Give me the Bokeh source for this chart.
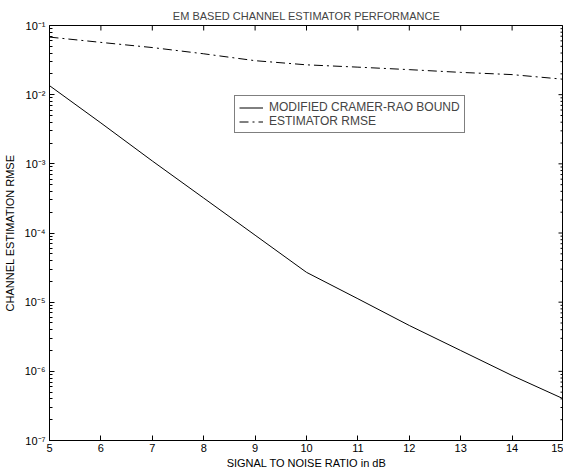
import math
from bokeh.plotting import figure
from bokeh.models import (Range1d, FixedTicker, CustomJSTickFormatter, Legend, LegendItem)
from bokeh.embed import file_html
from bokeh.resources import INLINE

snr_db = [5, 6, 7, 8, 9, 10, 11, 12, 13, 14, 15]
crb = [1.35e-2, 3.9e-3, 1.1e-3, 3.2e-4, 9.3e-5, 2.7e-5, 1.12e-5, 4.6e-6, 2.0e-6, 8.7e-7, 4.0e-7]
est_rmse = [0.068, 0.057, 0.048, 0.039, 0.031, 0.027, 0.025, 0.023, 0.021, 0.0195, 0.0167]

x_ticks = [5, 6, 7, 8, 9, 10, 11, 12, 13, 14, 15]
y_decades = [-7, -6, -5, -4, -3, -2, -1]

FONT = "Liberation Sans"
X0, X1 = 5, 15
Y0, Y1 = 1e-7, 1e-1

y_major = [10.0 ** e for e in y_decades]
y_minor = [m * 10.0 ** e for e in y_decades[:-1] for m in range(2, 10)]

p = figure(frame_width=514, frame_height=415, output_backend="svg", toolbar_location=None,
           x_range=Range1d(X0, X1), y_range=Range1d(Y0, Y1), y_axis_type="log",
           min_border_left=47, min_border_right=0, min_border_top=25, min_border_bottom=25,
           background_fill_color="white", border_fill_color="white")
p.outline_line_color = "black"
p.xgrid.visible = False
p.ygrid.visible = False

p.title.text = "EM BASED CHANNEL ESTIMATOR PERFORMANCE"
p.title.align = "center"
p.title.vertical_align = "top"
p.title.text_font = FONT
p.title.text_font_size = "11px"
p.title.text_font_style = "normal"
p.title.standoff = 4

fmt = CustomJSTickFormatter(code="""
const sup = {'-':'\u207b','0':'\u2070','1':'\u00b9','2':'\u00b2','3':'\u00b3','4':'\u2074','5':'\u2075','6':'\u2076','7':'\u2077','8':'\u2078','9':'\u2079'};
const e = Math.round(Math.log10(tick));
return '10' + String(e).split('').map(c => sup[c]).join('');
""")

def style_axis(ax):
    ax.axis_line_color = "black"
    ax.major_tick_in = 5
    ax.major_tick_out = 0
    ax.minor_tick_in = 3
    ax.minor_tick_out = 0
    ax.major_tick_line_color = "black"
    ax.minor_tick_line_color = "black"
    ax.major_label_text_font = FONT
    ax.major_label_text_font_size = "11px"
    ax.major_label_text_color = "black"
    ax.axis_label_text_font = FONT
    ax.axis_label_text_font_size = "11px"
    ax.axis_label_text_font_style = "normal"
    ax.axis_label_text_color = "black"

xax = p.xaxis[0]
xax.ticker = FixedTicker(ticks=x_ticks, minor_ticks=[])
xax.axis_label = "SIGNAL TO NOISE RATIO in dB"
style_axis(xax)
xax.major_label_standoff = 3
xax.axis_label_standoff = 2

yax = p.yaxis[0]
yax.ticker = FixedTicker(ticks=y_major, minor_ticks=y_minor)
yax.formatter = fmt
yax.axis_label = "CHANNEL ESTIMATION RMSE"
style_axis(yax)
yax.major_label_standoff = 4
yax.axis_label_standoff = 6

# mirrored ticks on the top and right edges of the frame
p.ray(x=x_ticks, y=[Y1] * len(x_ticks), length=5, length_units="screen",
      angle=-math.pi / 2, line_color="black", line_width=1)
p.ray(x=[X1] * len(y_major), y=y_major, length=5, length_units="screen",
      angle=math.pi, line_color="black", line_width=1)
p.ray(x=[X1] * len(y_minor), y=y_minor, length=3, length_units="screen",
      angle=math.pi, line_color="black", line_width=1)

r1 = p.line(snr_db, crb, line_color="black", line_width=1)
r2 = p.line(snr_db, est_rmse, line_color="black", line_width=1, line_dash="9 4 2 4")

legend = Legend(items=[LegendItem(label="MODIFIED CRAMER-RAO BOUND", renderers=[r1]),
                       LegendItem(label="ESTIMATOR RMSE", renderers=[r2])],
                location=(185, 307), orientation="vertical")
legend.border_line_color = "black"
legend.border_line_width = 1
legend.background_fill_color = "white"
legend.background_fill_alpha = 1
legend.label_text_font = FONT
legend.label_text_font_size = "12px"
legend.label_height = 11
legend.glyph_height = 11
legend.glyph_width = 24
legend.label_standoff = 6
legend.spacing = 0
legend.padding = 4
legend.margin = 0
p.add_layout(legend, "center")

open("out.html", "w").write(file_html(p, INLINE))
